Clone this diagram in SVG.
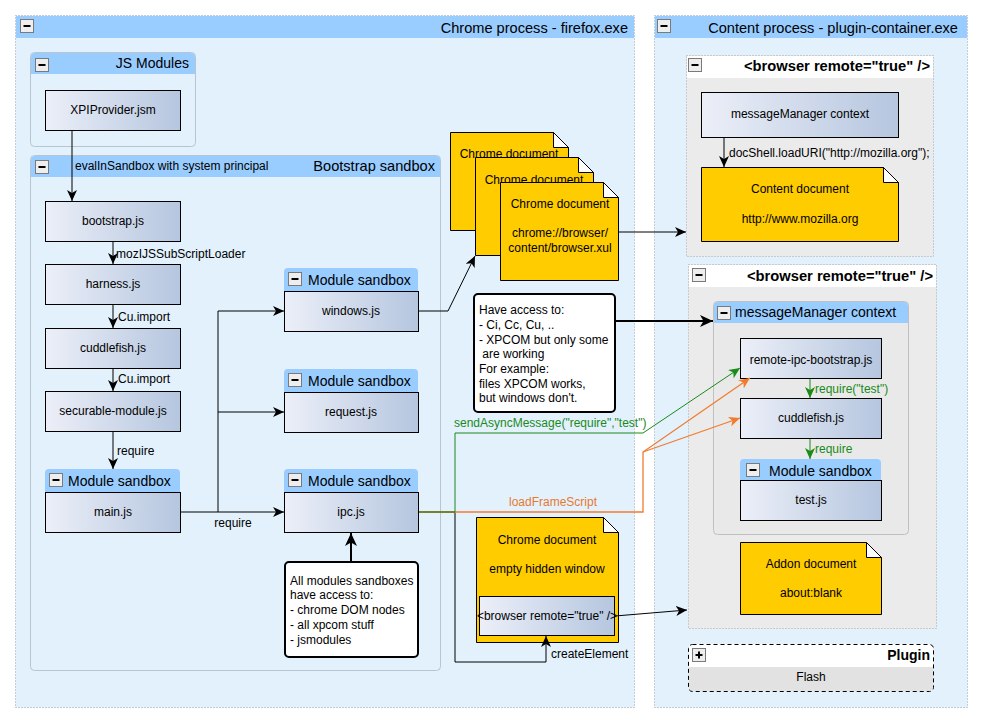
<svg xmlns="http://www.w3.org/2000/svg" width="983" height="723" viewBox="0 0 983 723">
<style>
text{font-family:"Liberation Sans",Arial,sans-serif;font-size:12px;fill:#000}
.t14{font-size:14px}
.t15{font-size:14.6px}
.b14{font-size:14px;font-weight:bold}
.mid{text-anchor:middle}
.end{text-anchor:end}
.proc{fill:#e3f1fc;stroke:#98a4b0;stroke-width:1;stroke-dasharray:1 2}
.hdr{fill:#99ccff}
.grp{fill:#e3f1fc;stroke:#b8c4d0;stroke-width:1}
.gray{fill:#ebebeb;stroke:#a8a8a8;stroke-width:1;stroke-dasharray:1 2}
.wh{fill:#ffffff}
.node{fill:url(#ng);stroke:#000;stroke-width:1}
.doc{fill:#ffcc00;stroke:#000;stroke-width:1}
.fold{fill:#ffffff;stroke:#000;stroke-width:1}
.note{fill:#ffffff;stroke:#000;stroke-width:2}
.mmc{fill:#e9e9e9;stroke:#c0c0c0;stroke-width:1}
.ic{fill:#eeeeee;stroke:#7a7a7a;stroke-width:1}
.e{fill:none;stroke:#000;stroke-width:1}
.e2{fill:none;stroke:#000;stroke-width:2}
.eg{fill:none;stroke:#1a8a1a;stroke-width:1}
.eo{fill:none;stroke:#f07c30;stroke-width:1.3}
.gl{fill:#1a8a1a}
.ol{fill:#e8782e}
</style>
<defs>
<linearGradient id="ng" x1="0" y1="0" x2="1" y2="0">
<stop offset="0" stop-color="#eceff8"/>
<stop offset="1" stop-color="#b5c6df"/>
</linearGradient>
<marker id="a" markerUnits="userSpaceOnUse" markerWidth="12" markerHeight="10" refX="11" refY="5" orient="auto"><path d="M0,0 L11,5 L0,10 L3,5 Z" fill="#000"/></marker>
<marker id="a2" markerUnits="userSpaceOnUse" markerWidth="14" markerHeight="12" refX="13" refY="6" orient="auto"><path d="M0,0 L13,6 L0,12 L3.5,6 Z" fill="#000"/></marker>
<marker id="ag" markerUnits="userSpaceOnUse" markerWidth="12" markerHeight="10" refX="11" refY="5" orient="auto"><path d="M0,0 L11,5 L0,10 L3,5 Z" fill="#1a8a1a"/></marker>
<marker id="ao" markerUnits="userSpaceOnUse" markerWidth="12" markerHeight="10" refX="11" refY="5" orient="auto"><path d="M0,0 L11,5 L0,10 L3,5 Z" fill="#f07c30"/></marker>
<g id="minus"><rect class="ic" x="0.5" y="0.5" width="13" height="13"/><rect x="3.5" y="6" width="7" height="2" fill="#000"/></g>
<g id="plus"><rect class="ic" x="0.5" y="0.5" width="13" height="13"/><rect x="3.5" y="6" width="7" height="2" fill="#000"/><rect x="6" y="3.5" width="2" height="7" fill="#000"/></g>
</defs>

<!-- Chrome process -->
<g id="chrome-process">
<rect class="proc" x="15.5" y="15.5" width="619" height="692"/>
<rect class="hdr" x="16" y="16" width="618" height="22"/>
<use href="#minus" x="20" y="19"/>
<text class="t15 end" x="628" y="33">Chrome process - firefox.exe</text>
</g>

<!-- Content process -->
<g id="content-process">
<rect class="proc" x="654.5" y="15.5" width="313" height="692"/>
<rect class="hdr" x="655" y="16" width="312" height="22"/>
<use href="#minus" x="657" y="19"/>
<text class="t15 end" x="958" y="33">Content process - plugin-container.exe</text>
</g>

<!-- JS Modules -->
<g id="js-modules">
<rect class="grp" x="30.5" y="52.5" width="165" height="94" rx="4"/>
<path class="hdr" d="M31,74 V57 Q31,53 35,53 H191 Q195,53 195,57 V74 Z"/>
<use href="#minus" x="35" y="58"/>
<text class="t14 end" x="189" y="68">JS Modules</text>
</g>
<g id="xpiprovider">
<rect class="node" x="45.5" y="90.5" width="135" height="40"/>
<text class="mid" x="113" y="114">XPIProvider.jsm</text>
</g>

<!-- Bootstrap sandbox -->
<g id="bootstrap-sandbox">
<rect class="grp" x="30.5" y="155.5" width="410" height="515" rx="4"/>
<path class="hdr" d="M31,177 V160 Q31,156 35,156 H436 Q440,156 440,160 V177 Z"/>
<use href="#minus" x="35" y="160"/>
<text class="t15 end" x="435" y="171">Bootstrap sandbox</text>
</g>
<g id="bootstrap-js"><rect class="node" x="45.5" y="201.5" width="135" height="40"/><text class="mid" x="113" y="225">bootstrap.js</text></g>
<g id="harness-js"><rect class="node" x="45.5" y="264.5" width="135" height="40"/><text class="mid" x="113" y="288">harness.js</text></g>
<g id="cuddlefish-js"><rect class="node" x="45.5" y="328.5" width="135" height="40"/><text class="mid" x="113" y="352">cuddlefish.js</text></g>
<g id="securable-module-js"><rect class="node" x="45.5" y="391.5" width="135" height="40"/><text class="mid" x="113" y="415">securable-module.js</text></g>

<g id="main-sandbox">
<path class="hdr" d="M45,492 V473 Q45,469 49,469 H176 Q180,469 180,473 V492 Z"/>
<use href="#minus" x="49" y="473"/>
<text class="t14" x="68" y="486">Module sandbox</text>
<rect class="node" x="45.5" y="492.5" width="135" height="40"/>
<text class="mid" x="113" y="516">main.js</text>
</g>
<g id="windows-sandbox">
<path class="hdr" d="M284,291 V272 Q284,268 288,268 H414 Q418,268 418,272 V291 Z"/>
<use href="#minus" x="288" y="272"/>
<text class="t14" x="308" y="285">Module sandbox</text>
<rect class="node" x="284.5" y="291.5" width="134" height="40"/>
<text class="mid" x="351" y="315">windows.js</text>
</g>
<g id="request-sandbox">
<path class="hdr" d="M284,392 V373 Q284,369 288,369 H414 Q418,369 418,373 V392 Z"/>
<use href="#minus" x="288" y="373"/>
<text class="t14" x="308" y="386">Module sandbox</text>
<rect class="node" x="284.5" y="392.5" width="134" height="40"/>
<text class="mid" x="351" y="416">request.js</text>
</g>
<g id="ipc-sandbox">
<path class="hdr" d="M284,492 V473 Q284,469 288,469 H414 Q418,469 418,473 V492 Z"/>
<use href="#minus" x="288" y="473"/>
<text class="t14" x="308" y="486">Module sandbox</text>
<rect class="node" x="284.5" y="492.5" width="134" height="40"/>
<text class="mid" x="351" y="516">ipc.js</text>
</g>
<g id="note-modules">
<rect class="note" x="285" y="562" width="133" height="95" rx="4"/>
<text x="290" y="585">All modules sandboxes</text>
<text x="290" y="599">have access to:</text>
<text x="290" y="614">- chrome DOM nodes</text>
<text x="290" y="629">- all xpcom stuff</text>
<text x="290" y="644">- jsmodules</text>
</g>

<!-- Chrome documents stack -->
<g id="chrome-doc-1">
<path class="doc" d="M450.5,132.5 H553.5 L568.5,147.5 V230.5 H450.5 Z"/>
<path class="fold" d="M553.5,132.5 L568.5,147.5 H553.5 Z"/>
<text class="mid" x="509" y="158">Chrome document</text>
</g>
<g id="chrome-doc-2">
<path class="doc" d="M475.5,157.5 H578.5 L593.5,172.5 V255.5 H475.5 Z"/>
<path class="fold" d="M578.5,157.5 L593.5,172.5 H578.5 Z"/>
<text class="mid" x="534" y="184">Chrome document</text>
</g>
<g id="chrome-doc-3">
<path class="doc" d="M500.5,182.5 H603.5 L618.5,197.5 V280.5 H500.5 Z"/>
<path class="fold" d="M603.5,182.5 L618.5,197.5 H603.5 Z"/>
<text class="mid" x="560" y="208">Chrome document</text>
<text class="mid" x="560" y="237">chrome://browser/</text>
<text class="mid" x="560" y="252">content/browser.xul</text>
</g>

<g id="note-access">
<rect class="note" x="474" y="294" width="141" height="118" rx="4"/>
<text x="479" y="314">Have access to:</text>
<text x="479" y="329">- Ci, Cc, Cu, ..</text>
<text x="479" y="344">- XPCOM but only some</text>
<text x="479" y="358" xml:space="preserve"> are working</text>
<text x="479" y="373">For example:</text>
<text x="479" y="388">files XPCOM works,</text>
<text x="479" y="402">but windows don't.</text>
</g>

<g id="hidden-doc">
<path class="doc" d="M476.5,517.5 H603.5 L618.5,532.5 V642.5 H476.5 Z"/>
<path class="fold" d="M603.5,517.5 L618.5,532.5 H603.5 Z"/>
<text class="mid" x="547" y="544">Chrome document</text>
<text class="mid" x="547" y="573">empty hidden window</text>
</g>
<g id="browser-element">
<rect class="node" x="479.5" y="596.5" width="135" height="39"/>
<text class="mid" x="547" y="620">&lt;browser remote="true" /&gt;</text>
</g>

<!-- Content side -->
<g id="browser-1">
<rect class="gray" x="686.5" y="55.5" width="247" height="201"/>
<rect class="wh" x="687" y="56" width="246" height="22"/>
<use href="#minus" x="688" y="58"/>
<text class="b14 end" x="930" y="71" textLength="186" lengthAdjust="spacingAndGlyphs">&lt;browser remote="true" /&gt;</text>
</g>
<g id="mm-context-1">
<rect class="node" x="701.5" y="92.5" width="197" height="45"/>
<text class="mid" x="800" y="118">messageManager context</text>
</g>
<g id="content-doc">
<path class="doc" d="M701.5,167.5 H883.5 L898.5,182.5 V241.5 H701.5 Z"/>
<path class="fold" d="M883.5,167.5 L898.5,182.5 H883.5 Z"/>
<text class="mid" x="800" y="193">Content document</text>
<text class="mid" x="800" y="223">http://www.mozilla.org</text>
</g>

<g id="browser-2">
<rect class="gray" x="688.5" y="264.5" width="248" height="364"/>
<rect class="wh" x="689" y="265" width="247" height="22"/>
<use href="#minus" x="692" y="268"/>
<text class="b14 end" x="933" y="281" textLength="186" lengthAdjust="spacingAndGlyphs">&lt;browser remote="true" /&gt;</text>
</g>
<g id="mm-context-2">
<rect class="mmc" x="713.5" y="301.5" width="195" height="233" rx="4"/>
<path class="hdr" d="M714,323 V306 Q714,302 718,302 H904 Q908,302 908,306 V323 Z"/>
<use href="#minus" x="717" y="306"/>
<text class="t14" x="735" y="317">messageManager context</text>
</g>
<g id="remote-ipc-bootstrap"><rect class="node" x="740.5" y="338.5" width="141" height="40"/><text class="mid" x="811" y="364">remote-ipc-bootstrap.js</text></g>
<g id="cuddlefish-remote"><rect class="node" x="740.5" y="398.5" width="141" height="40"/><text class="mid" x="811" y="422">cuddlefish.js</text></g>
<g id="test-sandbox">
<path class="hdr" d="M740,481 V463 Q740,459 744,459 H877 Q881,459 881,463 V481 Z"/>
<use href="#minus" x="746" y="463"/>
<text class="t14" x="769" y="476">Module sandbox</text>
<rect class="node" x="740.5" y="480.5" width="141" height="40"/>
<text class="mid" x="811" y="504">test.js</text>
</g>
<g id="addon-doc">
<path class="doc" d="M740.5,542.5 H866.5 L881.5,557.5 V614.5 H740.5 Z"/>
<path class="fold" d="M866.5,542.5 L881.5,557.5 H866.5 Z"/>
<text class="mid" x="811" y="568">Addon document</text>
<text class="mid" x="811" y="597">about:blank</text>
</g>
<g id="plugin">
<path d="M689,667 V648 Q689,644 693,644 H929 Q933,644 933,648 V667 Z" fill="#ffffff"/>
<path d="M689,667 V687 Q689,691 693,691 H929 Q933,691 933,687 V667 Z" fill="#e2e2e2"/>
<rect x="688.5" y="644.5" width="245" height="47" rx="4" fill="none" stroke="#000" stroke-width="1" stroke-dasharray="4 3"/>
<use href="#plus" x="692" y="648"/>
<text class="b14 end" x="930" y="660">Plugin</text>
<text class="mid" x="811" y="681">Flash</text>
</g>

<!-- Connectors -->
<g id="connectors">
<path class="e" d="M72,131 V201" marker-end="url(#a)"/>
<text x="75" y="170">evalInSandbox with system principal</text>
<path class="e" d="M113,242 V264" marker-end="url(#a)"/>
<text x="116" y="258">mozIJSSubScriptLoader</text>
<path class="e" d="M113,305 V328" marker-end="url(#a)"/>
<text x="118" y="321">Cu.import</text>
<path class="e" d="M113,369 V391" marker-end="url(#a)"/>
<text x="118" y="383">Cu.import</text>
<path class="e" d="M113,432 V469" marker-end="url(#a)"/>
<text x="117" y="455">require</text>
<path class="e" d="M181,512 H284" marker-end="url(#a)"/>
<path class="e" d="M218,512 V311 H284" marker-end="url(#a)"/>
<path class="e" d="M218,412 H284" marker-end="url(#a)"/>
<text class="mid" x="233" y="527">require</text>
<path class="e2" d="M351,561 V533" marker-end="url(#a2)"/>
<path class="e" d="M419,311 H448 L475,256" marker-end="url(#a)"/>
<path class="e" d="M619,232 H686" marker-end="url(#a)"/>
<path class="e2" d="M616,321 H713" marker-end="url(#a2)"/>
<path class="e" d="M724,138 V167" marker-end="url(#a)"/>
<text x="729" y="157">docShell.loadURI("http://mozilla.org");</text>
<path class="e" d="M419,512 H455 V662 H546 V636" marker-end="url(#a)"/>
<text x="551" y="658">createElement</text>
<path class="e" d="M615,616 L687,610" marker-end="url(#a)"/>
<path class="eo" d="M419,512 H643 V452 L750,378" marker-end="url(#ao)"/>
<path class="eo" d="M643,452 L740,418" marker-end="url(#ao)"/>
<text class="ol mid" x="553" y="506">loadFrameScript</text>
<path class="eg" d="M419,512 H455 V433 H643 L740,368" marker-end="url(#ag)"/>
<text class="gl" x="454" y="427">sendAsyncMessage("require","test")</text>
<path class="eg" d="M810,379 V398" marker-end="url(#ag)"/>
<text class="gl" x="815" y="393">require("test")</text>
<path class="eg" d="M810,439 V459" marker-end="url(#ag)"/>
<text class="gl" x="815" y="453">require</text>
</g>
</svg>
